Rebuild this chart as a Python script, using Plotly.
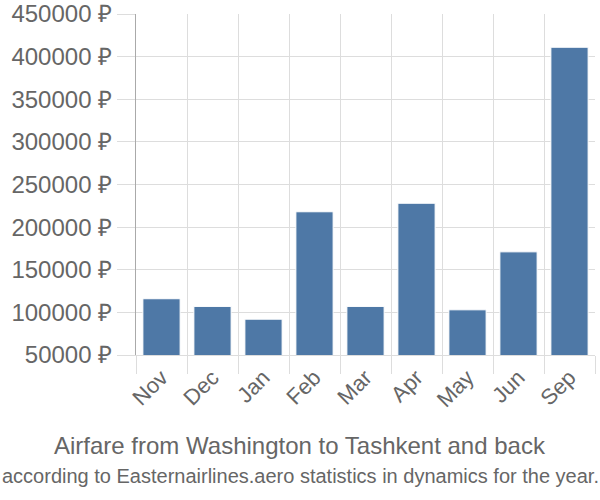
import plotly.graph_objects as go

# Average airfare by month (RUB)
months = ["Nov", "Dec", "Jan", "Feb", "Mar", "Apr", "May", "Jun", "Sep"]
prices = [116000, 107000, 92000, 218000, 107000, 228000, 103000, 171000, 411000]
y_ticks = [50000, 100000, 150000, 200000, 250000, 300000, 350000, 400000, 450000]

title = "Airfare from Washington to Tashkent and back"
subtitle = "according to Easternairlines.aero statistics in dynamics for the year."

font_family = "Liberation Sans, Arial, sans-serif"
grid = "#dddddd"

fig = go.Figure(go.Bar(
    x=months,
    y=prices,
    marker=dict(color="#4e78a6", line=dict(color="#ffffff", width=1)),
))

fig.update_layout(
    width=600,
    height=500,
    margin=dict(l=136, r=5, t=14, b=145, autoexpand=False),
    plot_bgcolor="white",
    paper_bgcolor="white",
    bargap=0.27,
    showlegend=False,
    font=dict(family=font_family, color="#666666", size=22),
    annotations=[
        dict(text=title, xref="paper", yref="paper", x=(300 - 136) / 459, y=-90 / 341,
             showarrow=False, xanchor="center", yanchor="middle",
             font=dict(size=24, color="#666666")),
        dict(text=subtitle, xref="paper", yref="paper", x=(300 - 136) / 459, y=-121 / 341,
             showarrow=False, xanchor="center", yanchor="middle",
             font=dict(size=20, color="#666666")),
    ],
)

fig.update_xaxes(
    tickson="boundaries", ticks="outside", ticklen=18, tickcolor=grid,
    showgrid=True, gridcolor=grid, tickangle=-45, automargin=False,
    showline=True, linecolor=grid, tickfont=dict(size=22),
)
fig.update_yaxes(
    range=[50000, 450000], tickvals=y_ticks,
    ticktext=[f"{v} ₽" for v in y_ticks],
    ticks="outside", ticklen=18, tickcolor=grid, automargin=False,
    showgrid=True, gridcolor=grid, tickfont=dict(size=24),
    showline=True, linecolor="#aaaaaa", zeroline=False,
)

# drop the default 8px page margin so the figure sits at the window corner
fig.write_html("out.html", config={"displayModeBar": False},
               post_script="document.body.style.margin='0';")
